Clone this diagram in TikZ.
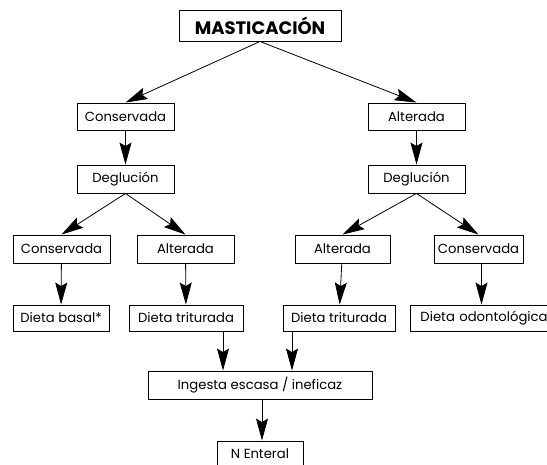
\documentclass[tikz,border=0pt]{standalone}
\usepackage{fontspec}
\setmainfont{Poppins}
\usetikzlibrary{arrows.meta}
\begin{document}
\begin{tikzpicture}[x=1pt,y=-1pt,
  box/.style={draw, line width=0.9pt, inner sep=0pt, minimum height=27pt,
    font=\fontsize{13.2}{15}\selectfont},
  arr/.style={line width=0.8pt, -{Stealth[length=22pt,width=12pt,inset=3.5pt]}}]
\clip (0,0) rectangle (547,464);
\fill[white] (0,0) rectangle (547,464);

% top level
\node[box, minimum width=162pt, minimum height=31pt,
  font=\bfseries\fontsize{18}{20}\selectfont] (mast) at (260,25.5) {MASTICACIÓN};

% chewing preserved / altered
\node[box, minimum width=97pt] (c1) at (125.5,116.5) {Conservada};
\node[box, minimum width=97pt] (a1) at (416.5,116.5) {Alterada};

% swallowing
\node[box, minimum width=97pt, minimum height=28pt] (d1) at (125.5,179) {Deglución};
\node[box, minimum width=97pt, minimum height=28pt] (d2) at (416.5,179) {Deglución};

% swallowing outcome
\node[box, minimum width=97pt, minimum height=28pt] (c2) at (61.5,249) {Conservada};
\node[box, minimum width=97pt, minimum height=28pt] (a2) at (185.5,249) {Alterada};
\node[box, minimum width=95pt, minimum height=28pt] (a3) at (342.5,249) {Alterada};
\node[box, minimum width=89pt, minimum height=28pt] (c3) at (478.5,249) {Conservada};

% diets
\node[box, minimum width=96pt, minimum height=26pt] (b1) at (61,318) {Dieta basal*};
\node[box, minimum width=114pt, minimum height=26pt] (t1) at (186,318) {Dieta triturada};
\node[box, minimum width=112pt, minimum height=26pt] (t2) at (339,318) {Dieta triturada};
\node[box, minimum height=26pt, anchor=west, align=left, text width=150pt,
  inner xsep=10pt] (o1) at (410,318) {Dieta odontológica};

% intake and enteral nutrition
\node[box, minimum width=224pt, minimum height=28pt] (ing) at (260,385) {Ingesta escasa / ineficaz};
\node[box, minimum width=86pt, minimum height=26pt] (ne) at (260,454) {N Enteral};

% connectors
\draw[arr] (mast.south) -- (c1.north);
\draw[arr] (mast.south) -- (a1.north);
\draw[arr] (c1) -- (d1);
\draw[arr] (a1) -- (d2);
\draw[arr] (d1.south) -- (c2.north);
\draw[arr] (d1.south) -- (a2.north);
\draw[arr] (d2.south) -- (a3.north);
\draw[arr] (d2.south) -- (c3.north);
\draw[arr] (c2) -- (b1);
\draw[arr] (a2) -- (t1);
\draw[arr] (a3) -- (t2);
\draw[arr] ([xshift=3pt]c3.south) -- ([xshift=3pt]c3.south |- o1.north);
\draw[arr] ([xshift=37pt]t1.south) -- ([xshift=37pt]t1.south |- ing.north);
\draw[arr] ([xshift=-47pt]t2.south) -- ([xshift=-47pt]t2.south |- ing.north);
\draw[arr] ([xshift=2pt]ing.south) -- ([xshift=2pt]ing.south |- ne.north);
\end{tikzpicture}
\end{document}
